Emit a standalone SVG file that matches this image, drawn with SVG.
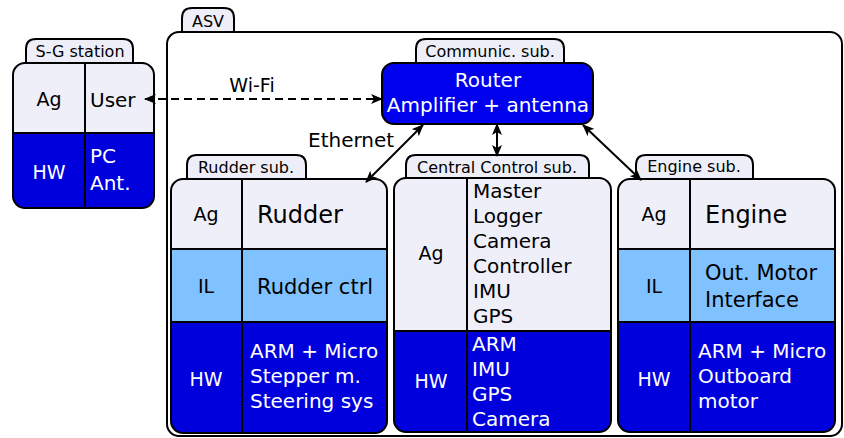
<svg xmlns="http://www.w3.org/2000/svg" width="844" height="438" viewBox="0 0 844 438">
  <style>
    text { font-family: "DejaVu Sans", "Liberation Sans", sans-serif; fill: #000; }
    .tab { fill: #eeeef8; stroke: #000; stroke-width: 2; }
    .tabtxt { font-size: 16px; text-anchor: middle; }
    .border { fill: none; stroke: #000; stroke-width: 2; }
    .ag { fill: #efeffa; }
    .il { fill: #80c2ff; }
    .hw { fill: #0000dd; }
    .div { stroke: #000; stroke-width: 2; }
    .lbl { font-size: 19px; text-anchor: middle; }
    .w { fill: #fff; }
    .big { font-size: 24px; }
    .mid { font-size: 21px; }
    .item { font-size: 20px; }
    .conn { fill: none; stroke: #000; stroke-width: 2; }
    .dash { stroke-dasharray: 8 5; }
  </style>
  <defs>
    <marker id="arr" viewBox="0 0 12 10" refX="11" refY="5" markerWidth="12" markerHeight="10" markerUnits="userSpaceOnUse" orient="auto-start-reverse">
      <path d="M0,0 L12,5 L0,10 L3,5 Z" fill="#000" stroke="none"/>
    </marker>
    <clipPath id="cSG"><rect x="13" y="63" width="141" height="145" rx="12"/></clipPath>
    <clipPath id="cRud"><rect x="171" y="179" width="216" height="254" rx="12"/></clipPath>
    <clipPath id="cCen"><rect x="394" y="178" width="217" height="254" rx="12"/></clipPath>
    <clipPath id="cEng"><rect x="618" y="179" width="217" height="253" rx="12"/></clipPath>
  </defs>

  <!-- ASV container -->
  <g id="asv">
    <path class="tab" d="M182,32 V18 Q182,8 192,8 H224 Q234,8 234,18 V32"/>
    <text class="tabtxt" x="208" y="27">ASV</text>
    <rect class="border" x="167" y="32" width="675" height="404" rx="12"/>
  </g>

  <!-- Ground station -->
  <g id="sg-station">
    <path class="tab" d="M26,63 V49 Q26,39 36,39 H123 Q133,39 133,49 V63"/>
    <text class="tabtxt" x="80" y="57">S-G station</text>
    <g clip-path="url(#cSG)">
      <rect class="ag" x="13" y="63" width="141" height="70"/>
      <rect class="hw" x="13" y="133" width="141" height="75"/>
    </g>
    <line class="div" x1="85" y1="63" x2="85" y2="208"/>
    <line class="div" x1="13" y1="133" x2="154" y2="133"/>
    <rect class="border" x="13" y="63" width="141" height="145" rx="12"/>
    <text class="lbl" x="49" y="106">Ag</text>
    <text class="item" x="90" y="107">User</text>
    <text class="lbl w" x="49" y="179">HW</text>
    <text class="item w" x="90" y="163">PC</text>
    <text class="item w" x="90" y="190">Ant.</text>
  </g>

  <!-- Communication subsystem -->
  <g id="comm">
    <path class="tab" d="M416,63 V49 Q416,39 426,39 H554 Q564,39 564,49 V63"/>
    <text class="tabtxt" x="490" y="57">Communic. sub.</text>
    <rect x="382" y="63" width="211" height="61" rx="12" fill="#0000ee" stroke="#000" stroke-width="2"/>
    <text class="item w" x="488" y="87" text-anchor="middle">Router</text>
    <text class="item w" x="488" y="112" text-anchor="middle">Amplifier + antenna</text>
  </g>

  <!-- Rudder subsystem -->
  <g id="rudder">
    <path class="tab" d="M187,179 V165 Q187,155 197,155 H296 Q306,155 306,165 V179"/>
    <text class="tabtxt" x="246" y="173">Rudder sub.</text>
    <g clip-path="url(#cRud)">
      <rect class="ag" x="171" y="179" width="216" height="70"/>
      <rect class="il" x="171" y="249" width="216" height="73"/>
      <rect class="hw" x="171" y="322" width="216" height="111"/>
    </g>
    <line class="div" x1="242" y1="179" x2="242" y2="433"/>
    <line class="div" x1="171" y1="249" x2="387" y2="249"/>
    <line class="div" x1="171" y1="322" x2="387" y2="322"/>
    <rect class="border" x="171" y="179" width="216" height="254" rx="12"/>
    <text class="lbl" x="206" y="221">Ag</text>
    <text class="big" x="257" y="223">Rudder</text>
    <text class="lbl" x="206" y="293">IL</text>
    <text class="mid" x="257" y="294">Rudder ctrl</text>
    <text class="lbl w" x="206" y="386">HW</text>
    <text class="item w" x="250" y="358">ARM + Micro</text>
    <text class="item w" x="250" y="383">Stepper m.</text>
    <text class="item w" x="250" y="408">Steering sys</text>
  </g>

  <!-- Central control subsystem -->
  <g id="central">
    <path class="tab" d="M406,178 V165 Q406,155 416,155 H579 Q589,155 589,165 V178"/>
    <text class="tabtxt" x="497" y="173">Central Control sub.</text>
    <g clip-path="url(#cCen)">
      <rect class="ag" x="394" y="178" width="217" height="153"/>
      <rect class="hw" x="394" y="331" width="217" height="101"/>
    </g>
    <line class="div" x1="467" y1="178" x2="467" y2="432"/>
    <line class="div" x1="394" y1="331" x2="611" y2="331"/>
    <rect class="border" x="394" y="178" width="217" height="254" rx="12"/>
    <text class="lbl" x="431" y="260">Ag</text>
    <text class="item" x="473" y="198">Master</text>
    <text class="item" x="473" y="223">Logger</text>
    <text class="item" x="473" y="248">Camera</text>
    <text class="item" x="473" y="273">Controller</text>
    <text class="item" x="473" y="298">IMU</text>
    <text class="item" x="473" y="323">GPS</text>
    <text class="lbl w" x="431" y="388">HW</text>
    <text class="item w" x="472" y="351">ARM</text>
    <text class="item w" x="472" y="376">IMU</text>
    <text class="item w" x="472" y="401">GPS</text>
    <text class="item w" x="472" y="426">Camera</text>
  </g>

  <!-- Engine subsystem -->
  <g id="engine">
    <path class="tab" d="M636,179 V165 Q636,155 646,155 H743 Q753,155 753,165 V179"/>
    <text class="tabtxt" x="694" y="172">Engine sub.</text>
    <g clip-path="url(#cEng)">
      <rect class="ag" x="618" y="179" width="217" height="70"/>
      <rect class="il" x="618" y="249" width="217" height="73"/>
      <rect class="hw" x="618" y="322" width="217" height="110"/>
    </g>
    <line class="div" x1="690" y1="179" x2="690" y2="432"/>
    <line class="div" x1="618" y1="249" x2="835" y2="249"/>
    <line class="div" x1="618" y1="322" x2="835" y2="322"/>
    <rect class="border" x="618" y="179" width="217" height="253" rx="12"/>
    <text class="lbl" x="654" y="221">Ag</text>
    <text class="big" x="705" y="223">Engine</text>
    <text class="lbl" x="654" y="293">IL</text>
    <text class="mid" x="705" y="280">Out. Motor</text>
    <text class="mid" x="705" y="307">Interface</text>
    <text class="lbl w" x="654" y="386">HW</text>
    <text class="item w" x="698" y="358">ARM + Micro</text>
    <text class="item w" x="698" y="383">Outboard</text>
    <text class="item w" x="698" y="408">motor</text>
  </g>

  <!-- Links -->
  <g id="connectors">
    <line class="conn dash" x1="145" y1="99" x2="382" y2="99" marker-start="url(#arr)" marker-end="url(#arr)"/>
    <text class="lbl" x="252" y="92">Wi-Fi</text>
    <line class="conn" x1="423" y1="125" x2="366" y2="182" marker-start="url(#arr)" marker-end="url(#arr)"/>
    <text class="item" x="308" y="147">Ethernet</text>
    <line class="conn" x1="497" y1="124" x2="497" y2="156" marker-start="url(#arr)" marker-end="url(#arr)"/>
    <line class="conn" x1="583" y1="125" x2="641" y2="180" marker-start="url(#arr)" marker-end="url(#arr)"/>
  </g>
</svg>
